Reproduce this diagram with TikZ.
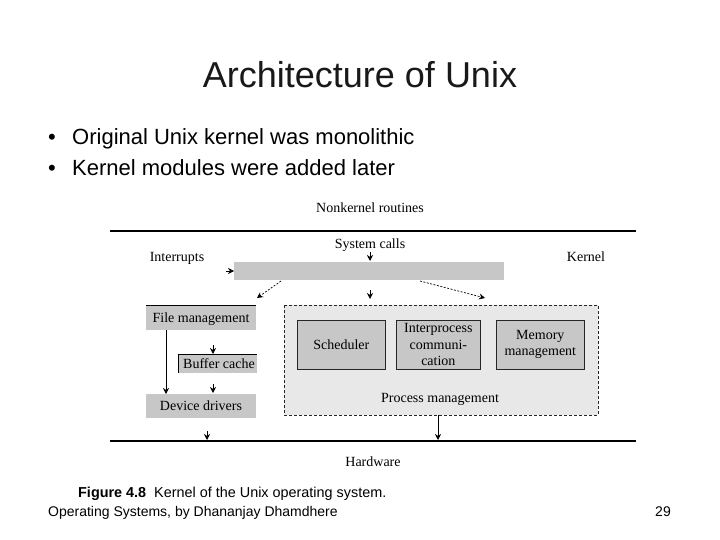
\documentclass[tikz,border=0pt]{standalone}
\usepackage{fontspec}
\setmainfont{Liberation Serif}
\setsansfont{Liberation Sans}
\usetikzlibrary{arrows.meta}
\begin{document}
\begin{tikzpicture}[x=1pt,y=-1pt,
  slide/.style={font=\sffamily\fontsize{22}{26}\selectfont, anchor=base west, inner sep=0},
  fig/.style={font=\rmfamily\fontsize{14}{15}\selectfont, anchor=base, inner sep=0},
  arr/.style={-{Stealth[length=6pt,width=6pt,inset=2pt]}, line width=0.7pt},
  darr/.style={arr, dashed, dash pattern=on 2pt off 1.5pt},
  gbox/.style={fill=black!22, draw=none, inner sep=0},
  ibox/.style={fill=black!22, draw=black!85, line width=0.7pt},
  thick line/.style={line width=2pt}]
\useasboundingbox (0,0) rectangle (720,540);
\fill[white] (0,0) rectangle (720,540);
% title and bullets
\node[font=\sffamily\fontsize{36}{40}\selectfont, anchor=base, inner sep=0, text=black!90] (title) at (360,88) {Architecture of Unix};
\node[slide] (b1) at (48,145) {•};
\node[slide] (t1) at (72,145) {Original Unix kernel was monolithic};
\node[slide] (b2) at (48,176) {•};
\node[slide] (t2) at (72,176) {Kernel modules were added later};
% lines
\coordinate (tl1) at (110,231); \coordinate (tl2) at (636,231);
\coordinate (bl1) at (110,441); \coordinate (bl2) at (636,441);
\draw[thick line] (tl1) -- (tl2);
\draw[thick line] (bl1) -- (bl2);
\node[fig] (nonk) at (370,213) {Nonkernel routines};
\node[fig] (syscalls) at (370,248) {System calls};
\node[fig] (intr) at (177,261) {Interrupts};
\node[fig] (kern) at (586,261) {Kernel};
\node[fig] (hw) at (373,466) {Hardware};
% gray bar
\path[gbox] (234,262) rectangle (504,280);
\coordinate (barL) at (234,271);
\coordinate (intS) at (226,271);
\draw[arr] (intS) -- (barL);
\coordinate (scS) at (370,252); \coordinate (scE) at (370,261);
\draw[arr] (scS) -- (scE);
\coordinate (d1s) at (281,281); \coordinate (d1e) at (257,298);
\coordinate (d2s) at (420,281); \coordinate (d2e) at (485,298);
\coordinate (m1s) at (370,290); \coordinate (m1e) at (370,299);
\draw[darr] (d1s) -- (d1e);
\draw[darr] (d2s) -- (d2e);
\draw[arr] (m1s) -- (m1e);
% left column
\path[gbox] (146,305) rectangle (256,330);
\draw[line width=0.7pt] (146,305) -- (256,305);
\node[fig] (fm) at (201,322) {File management};
\path[gbox] (178,354) rectangle (257,373);
\draw[line width=0.7pt] (178,373) -- (178,354) -- (257,354);
\node[fig] (bc) at (219,368) {Buffer cache};
\path[gbox] (146,394) rectangle (256,418);
\node[fig] (dd) at (201,410) {Device drivers};
\coordinate (fmB) at (166,330); \coordinate (ddT) at (166,394);
\draw[arr] (fmB) -- (ddT);
\coordinate (bcs) at (213,345); \coordinate (bce) at (213,354);
\draw[arr] (bcs) -- (bce);
\coordinate (bc2s) at (213,384); \coordinate (bc2e) at (213,393);
\draw[arr] (bc2s) -- (bc2e);
\coordinate (dds) at (207,431); \coordinate (dde) at (207,440);
\draw[arr] (dds) -- (dde);
% process management
\draw[fill=black!9, draw=black!85, line width=0.6pt, dash pattern=on 3pt off 2pt] (284,305) rectangle (598,415);
\node[ibox, minimum width=88pt, minimum height=49pt, anchor=north west, inner sep=0] (sch) at (297,320) {};
\node[fig, anchor=center] at (sch.center) {Scheduler};
\node[ibox, minimum width=84pt, minimum height=49pt, anchor=north west, inner sep=0] (ipc) at (396,320) {};
\node[font=\rmfamily\fontsize{14}{16.5}\selectfont, align=center, inner sep=0] at (ipc.center) {Interprocess\\communi-\\cation};
\node[ibox, minimum width=88pt, minimum height=49pt, anchor=north west, inner sep=0] (mem) at (496,320) {};
\node[font=\rmfamily\fontsize{14}{16}\selectfont, align=center, inner sep=0] at (mem.center) {Memory\\management};
\node[fig] (pm) at (440,402) {Process management};
\coordinate (pmB) at (438,415); \coordinate (pmE) at (438,440);
\draw[arr] (pmB) -- (pmE);
% caption and footer
\node[font=\sffamily\fontsize{14.4}{16}\selectfont, anchor=base west, inner sep=0] (cap) at (78,497) {\textbf{Figure 4.8}\ \ Kernel of the Unix operating system.};
\node[font=\sffamily\fontsize{14}{16}\selectfont, anchor=base west, inner sep=0] (foot) at (48,516) {Operating Systems, by Dhananjay Dhamdhere};
\node[font=\sffamily\fontsize{14}{16}\selectfont, anchor=base east, inner sep=0] (pg) at (671,516) {29};
\end{tikzpicture}
\end{document}
